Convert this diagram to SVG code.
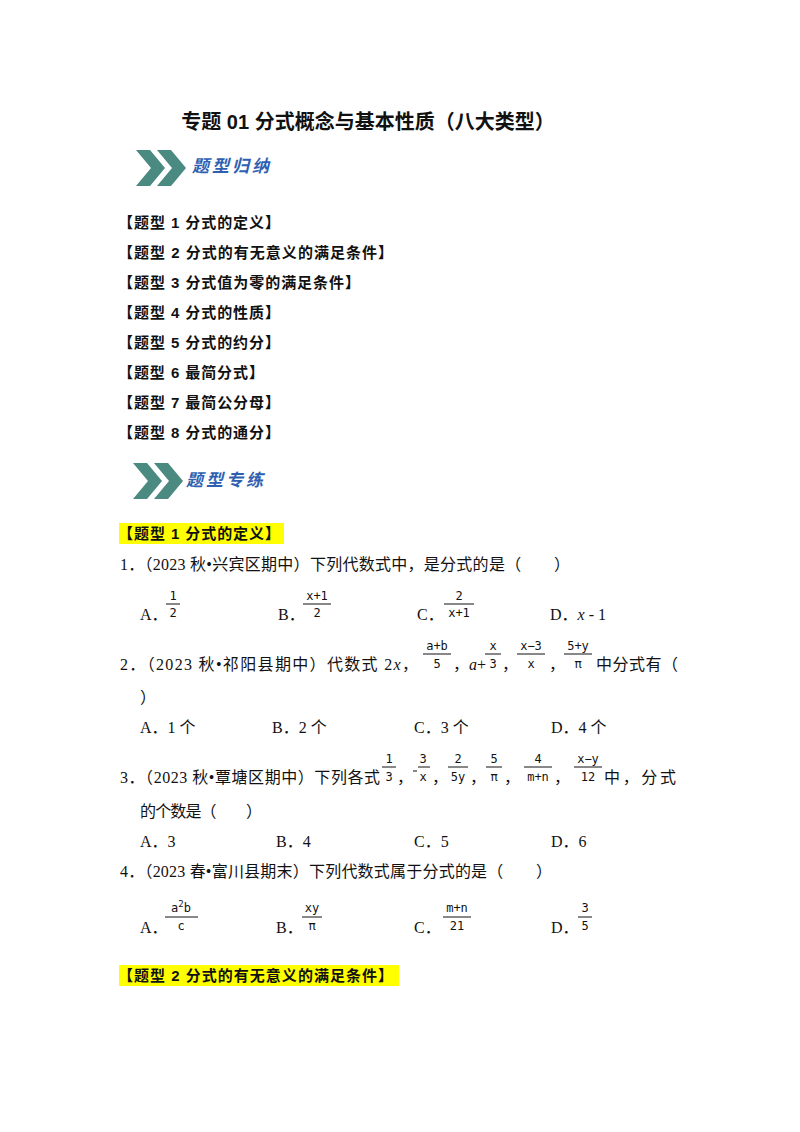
<svg xmlns="http://www.w3.org/2000/svg" width="800" height="1132" viewBox="0 0 800 1132">
<style>
text{font-family:"Liberation Serif","Noto Sans CJK SC",serif;font-size:16px;fill:#111}
.b{font-weight:bold;font-family:"Liberation Sans","Noto Sans CJK SC",sans-serif;font-size:15px}
.t{font-size:20px;font-weight:bold;font-family:"Liberation Sans","Noto Sans CJK SC",sans-serif}
.h{font-size:17px;font-weight:bold;fill:#2f5fb0;font-style:italic;letter-spacing:3px}
.f{font-size:12px;font-family:"DejaVu Sans Mono","Noto Sans CJK SC",monospace;text-anchor:middle}
.ln{stroke:#111;stroke-width:1}
.chev{fill:#4a8a80}
</style>
<rect width="800" height="1132" fill="#fff"/>
<text class="t" x="368" y="129" text-anchor="middle">专题 01 分式概念与基本性质（八大类型）</text>
<g id="icon1">
<polygon class="chev" points="136,150 150,150 165,168 150,186 136,186 151,168"/>
<polygon class="chev" points="157,150 171,150 186,168 171,186 157,186 172,168"/>
<text class="h" x="192" y="172">题型归纳</text>
</g>
<g id="list">
<text class="b" x="118" y="228" textLength="162" lengthAdjust="spacing">【题型 1  分式的定义】</text>
<text class="b" x="118" y="258" textLength="275" lengthAdjust="spacing">【题型 2  分式的有无意义的满足条件】</text>
<text class="b" x="118" y="288" textLength="242" lengthAdjust="spacing">【题型 3  分式值为零的满足条件】</text>
<text class="b" x="118" y="318" textLength="162" lengthAdjust="spacing">【题型 4  分式的性质】</text>
<text class="b" x="118" y="348" textLength="162" lengthAdjust="spacing">【题型 5  分式的约分】</text>
<text class="b" x="118" y="378" textLength="146" lengthAdjust="spacing">【题型 6  最简分式】</text>
<text class="b" x="118" y="408" textLength="162" lengthAdjust="spacing">【题型 7  最简公分母】</text>
<text class="b" x="118" y="438" textLength="162" lengthAdjust="spacing">【题型 8  分式的通分】</text>
</g>
<g id="icon2">
<polygon class="chev" points="133,463 147,463 162,481 147,499 133,499 148,481"/>
<polygon class="chev" points="154,463 168,463 183,481 168,499 154,499 169,481"/>
<text class="h" x="186" y="486">题型专练</text>
</g>
<rect x="119" y="523" width="165" height="21" fill="#ffff00"/>
<text class="b" x="118" y="539" textLength="162" lengthAdjust="spacing">【题型 1  分式的定义】</text>
<text x="120" y="570" textLength="450" lengthAdjust="spacing">1．（2023 秋•兴宾区期中）下列代数式中，是分式的是（　　）</text>
<text x="140" y="620">A．</text>
<text class="f" x="173" y="600">1</text><line class="ln" x1="166" y1="604" x2="180" y2="604"/><text class="f" x="173" y="617">2</text>
<text x="278" y="620">B．</text>
<text class="f" x="317" y="600">x+1</text><line class="ln" x1="303" y1="604" x2="331" y2="604"/><text class="f" x="317" y="617">2</text>
<text x="417" y="620">C．</text>
<text class="f" x="459" y="600">2</text><line class="ln" x1="444" y1="604" x2="474" y2="604"/><text class="f" x="459" y="617">x+1</text>
<text x="550" y="620">D．<tspan font-style="italic">x</tspan> - 1</text>

<text x="120" y="670" textLength="298" lengthAdjust="spacing">2．（2023 秋•祁阳县期中）代数式 2<tspan font-style="italic">x</tspan>，</text>
<text class="f" x="437" y="650">a+b</text><line class="ln" x1="423" y1="654" x2="451" y2="654"/><text class="f" x="437" y="668">5</text>
<text x="453" y="670">，<tspan font-style="italic">a</tspan>+</text>
<text class="f" x="493" y="650">x</text><line class="ln" x1="485" y1="654" x2="501" y2="654"/><text class="f" x="493" y="668">3</text>
<text x="502" y="670">，</text>
<text class="f" x="531" y="650">x−3</text><line class="ln" x1="517" y1="654" x2="545" y2="654"/><text class="f" x="531" y="668">x</text>
<text x="549" y="670">，</text>
<text class="f" x="578" y="650">5+y</text><line class="ln" x1="564" y1="654" x2="592" y2="654"/><text class="f" x="578" y="668">π</text>
<text x="596" y="670" textLength="82" lengthAdjust="spacing">中分式有（</text>
<text x="140" y="703">）</text>
<text x="140" y="733">A．1 个</text>
<text x="272" y="733">B．2 个</text>
<text x="414" y="733">C．3 个</text>
<text x="551" y="733">D．4 个</text>

<text x="120" y="783" textLength="260" lengthAdjust="spacing">3．（2023 秋•覃塘区期中）下列各式</text>
<text class="f" x="389" y="763">1</text><line class="ln" x1="382" y1="767" x2="396" y2="767"/><text class="f" x="389" y="781">3</text>
<text x="397" y="783">，</text>
<text class="f" x="423" y="763">3</text><line class="ln" x1="413" y1="771" x2="417" y2="771"/><line class="ln" x1="418" y1="767" x2="430" y2="767"/><text class="f" x="423" y="781">x</text>
<text x="432" y="783">，</text>
<text class="f" x="458" y="763">2</text><line class="ln" x1="448" y1="767" x2="468" y2="767"/><text class="f" x="458" y="781">5y</text>
<text x="470" y="783">，</text>
<text class="f" x="494" y="763">5</text><line class="ln" x1="486" y1="767" x2="502" y2="767"/><text class="f" x="494" y="781">π</text>
<text x="504" y="783">，</text>
<text class="f" x="538" y="763">4</text><line class="ln" x1="524" y1="767" x2="552" y2="767"/><text class="f" x="538" y="781">m+n</text>
<text x="554" y="783">，</text>
<text class="f" x="588" y="763">x−y</text><line class="ln" x1="574" y1="767" x2="602" y2="767"/><text class="f" x="588" y="781">12</text>
<text x="604" y="783" textLength="72" lengthAdjust="spacing">中，分式</text>
<text x="140" y="817" textLength="122" lengthAdjust="spacing">的个数是（　　）</text>
<text x="140" y="847">A．3</text>
<text x="276" y="847">B．4</text>
<text x="414" y="847">C．5</text>
<text x="551" y="847">D．6</text>

<text x="120" y="877" textLength="432" lengthAdjust="spacing">4．（2023 春•富川县期末）下列代数式属于分式的是（　　）</text>
<text x="140" y="933">A．</text>
<text class="f" x="181" y="912">a<tspan font-size="9" dy="-5">2</tspan><tspan dy="5">b</tspan></text><line class="ln" x1="165" y1="917" x2="198" y2="917"/><text class="f" x="181" y="930">c</text>
<text x="276" y="933">B．</text>
<text class="f" x="312" y="912">xy</text><line class="ln" x1="302" y1="917" x2="322" y2="917"/><text class="f" x="312" y="930">π</text>
<text x="414" y="933">C．</text>
<text class="f" x="457" y="912">m+n</text><line class="ln" x1="443" y1="917" x2="471" y2="917"/><text class="f" x="457" y="930">21</text>
<text x="551" y="933">D．</text>
<text class="f" x="585" y="912">3</text><line class="ln" x1="578" y1="917" x2="592" y2="917"/><text class="f" x="585" y="930">5</text>

<rect x="119" y="965" width="280" height="21" fill="#ffff00"/>
<text class="b" x="118" y="981" textLength="275" lengthAdjust="spacing">【题型 2  分式的有无意义的满足条件】</text>
</svg>
